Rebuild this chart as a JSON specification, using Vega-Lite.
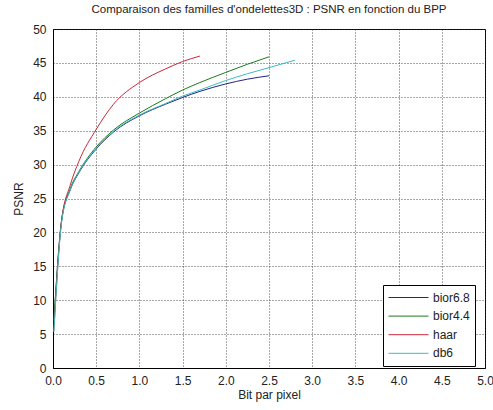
{
  "$schema": "https://vega.github.io/schema/vega-lite/v6.json",
  "width": 432,
  "height": 339,
  "autosize": {"type": "none"},
  "padding": {"left": 53, "top": 29, "right": 8, "bottom": 42},
  "background": "white",
  "title": {
    "text": "Comparaison des familles d'ondelettes3D : PSNR en fonction du BPP",
    "font": "Liberation Sans",
    "fontSize": 11.5,
    "fontWeight": "normal",
    "color": "#222",
    "offset": 8,
    "anchor": "middle"
  },
  "config": {
    "view": {"stroke": "black", "strokeWidth": 1},
    "axis": {
      "labelFont": "Liberation Sans",
      "labelFontSize": 12,
      "labelColor": "#222",
      "titleFont": "Liberation Sans",
      "titleFontSize": 12,
      "titleFontWeight": "normal",
      "titleColor": "#222",
      "domainColor": "black",
      "ticks": false,
      "gridColor": "#333",
      "gridDash": [1, 2],
      "gridOpacity": 0.85,
      "gridWidth": 1
    }
  },
  "data": {
    "values": [
      {"bpp": 0.01, "psnr": 6.5, "famille": "bior6.8"},
      {"bpp": 0.1, "psnr": 21.8, "famille": "bior6.8"},
      {"bpp": 0.2, "psnr": 26.3, "famille": "bior6.8"},
      {"bpp": 0.3, "psnr": 28.8, "famille": "bior6.8"},
      {"bpp": 0.5, "psnr": 32.3, "famille": "bior6.8"},
      {"bpp": 0.7, "psnr": 34.8, "famille": "bior6.8"},
      {"bpp": 1.0, "psnr": 37.2, "famille": "bior6.8"},
      {"bpp": 1.3, "psnr": 38.9, "famille": "bior6.8"},
      {"bpp": 1.5, "psnr": 39.9, "famille": "bior6.8"},
      {"bpp": 1.7, "psnr": 40.8, "famille": "bior6.8"},
      {"bpp": 2.0, "psnr": 41.9, "famille": "bior6.8"},
      {"bpp": 2.25, "psnr": 42.6, "famille": "bior6.8"},
      {"bpp": 2.5, "psnr": 43.1, "famille": "bior6.8"},
      {"bpp": 0.01, "psnr": 7.0, "famille": "bior4.4"},
      {"bpp": 0.1, "psnr": 21.8, "famille": "bior4.4"},
      {"bpp": 0.2, "psnr": 26.5, "famille": "bior4.4"},
      {"bpp": 0.3, "psnr": 29.0, "famille": "bior4.4"},
      {"bpp": 0.5, "psnr": 32.6, "famille": "bior4.4"},
      {"bpp": 0.7, "psnr": 35.1, "famille": "bior4.4"},
      {"bpp": 1.0, "psnr": 37.6, "famille": "bior4.4"},
      {"bpp": 1.3, "psnr": 39.7, "famille": "bior4.4"},
      {"bpp": 1.5, "psnr": 41.0, "famille": "bior4.4"},
      {"bpp": 1.7, "psnr": 42.1, "famille": "bior4.4"},
      {"bpp": 2.0, "psnr": 43.6, "famille": "bior4.4"},
      {"bpp": 2.25, "psnr": 44.8, "famille": "bior4.4"},
      {"bpp": 2.5, "psnr": 45.9, "famille": "bior4.4"},
      {"bpp": 0.01, "psnr": 5.5, "famille": "haar"},
      {"bpp": 0.1, "psnr": 21.8, "famille": "haar"},
      {"bpp": 0.2, "psnr": 27.0, "famille": "haar"},
      {"bpp": 0.3, "psnr": 30.5, "famille": "haar"},
      {"bpp": 0.5, "psnr": 35.2, "famille": "haar"},
      {"bpp": 0.7, "psnr": 38.9, "famille": "haar"},
      {"bpp": 1.0, "psnr": 42.1, "famille": "haar"},
      {"bpp": 1.3, "psnr": 44.1, "famille": "haar"},
      {"bpp": 1.5, "psnr": 45.2, "famille": "haar"},
      {"bpp": 1.7, "psnr": 46.0, "famille": "haar"},
      {"bpp": 0.01, "psnr": 5.3, "famille": "db6"},
      {"bpp": 0.1, "psnr": 21.5, "famille": "db6"},
      {"bpp": 0.2, "psnr": 26.3, "famille": "db6"},
      {"bpp": 0.3, "psnr": 28.9, "famille": "db6"},
      {"bpp": 0.5, "psnr": 32.4, "famille": "db6"},
      {"bpp": 0.7, "psnr": 34.9, "famille": "db6"},
      {"bpp": 1.0, "psnr": 37.3, "famille": "db6"},
      {"bpp": 1.3, "psnr": 39.0, "famille": "db6"},
      {"bpp": 1.5, "psnr": 40.1, "famille": "db6"},
      {"bpp": 1.7, "psnr": 41.0, "famille": "db6"},
      {"bpp": 2.0, "psnr": 42.4, "famille": "db6"},
      {"bpp": 2.25, "psnr": 43.4, "famille": "db6"},
      {"bpp": 2.5, "psnr": 44.3, "famille": "db6"},
      {"bpp": 2.8, "psnr": 45.4, "famille": "db6"}
    ]
  },
  "mark": {"type": "line", "strokeWidth": 1, "interpolate": "monotone"},
  "encoding": {
    "x": {
      "field": "bpp",
      "type": "quantitative",
      "scale": {"domain": [0, 5], "nice": false, "zero": true},
      "axis": {
        "title": "Bit par pixel",
        "values": [0, 0.5, 1, 1.5, 2, 2.5, 3, 3.5, 4, 4.5, 5],
        "labelPadding": 7,
        "titlePadding": 3,
        "grid": true,
        "labelFlush": false
      }
    },
    "y": {
      "field": "psnr",
      "type": "quantitative",
      "scale": {"domain": [0, 50], "nice": false},
      "axis": {
        "title": "PSNR",
        "values": [0, 5, 10, 15, 20, 25, 30, 35, 40, 45, 50],
        "labelPadding": 7,
        "titlePadding": 7,
        "grid": true,
        "labelFlush": false
      }
    },
    "color": {
      "field": "famille",
      "type": "nominal",
      "scale": {
        "domain": ["bior6.8", "bior4.4", "haar", "db6"],
        "range": ["#22228a", "#1e7a1e", "#c8283a", "#3cbcbc"]
      },
      "legend": {
        "title": null,
        "orient": "none",
        "legendX": 330,
        "legendY": 256,
        "symbolType": "stroke",
        "symbolSize": 1600,
        "symbolStrokeWidth": 1,
        "clipHeight": 15,
        "rowPadding": 3.6,
        "labelFont": "Liberation Sans",
        "labelFontSize": 12,
        "labelColor": "#222",
        "fillColor": "white",
        "strokeColor": "black",
        "padding": 5,
        "labelOffset": 4
      }
    }
  }
}
